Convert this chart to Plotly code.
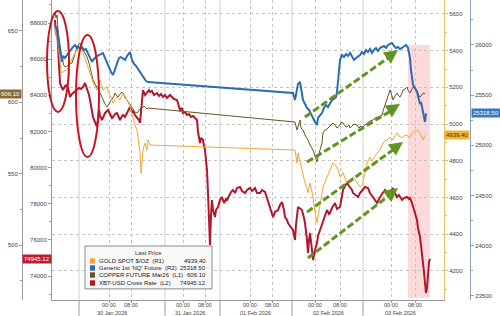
import plotly.graph_objects as go

# ---------------- data (t = compressed trading-time index) ----------------
nq_t = [3, 5, 6, 8, 10, 11, 13, 15, 17, 19, 21, 23, 25, 26, 28, 30, 32, 34, 36, 38,
        40, 41, 43, 45, 47, 49, 51, 53, 55, 57, 59, 61, 63, 65, 67, 69, 71, 73, 75, 77,
        78, 80, 82, 84, 86, 88, 90, 92, 94, 96,
        241, 243, 244, 246, 248, 249, 251, 253, 255, 257, 259, 261, 263, 265, 266, 268, 270, 272, 274, 276,
        278, 280, 282, 284, 285, 286, 287, 288, 290, 292, 294, 296, 298, 300, 302, 304, 306, 308, 310, 312,
        314, 316, 318, 320, 322, 324, 326, 328, 330, 332, 334, 336, 338, 340, 342, 344, 346, 348, 350, 352,
        354, 356, 357, 358, 359, 360, 361, 363, 365, 366, 367, 368, 369, 370, 371, 372, 373, 374]
nq_v = [26189, 26169, 26070, 25950, 25831, 25890, 25871, 25900, 25930, 25950, 25980, 26000, 25970, 25990,
        25960, 25980, 25950, 25960, 25920, 25880, 25831, 25851, 25871, 25890, 25900, 25910, 25920, 25871,
        25821, 25771, 25731, 25701, 25751, 25821, 25871, 25880, 25861, 25851, 25890, 25910, 25930, 25851,
        25811, 25791, 25761, 25721, 25701, 25661, 25641, 25631,
        25522, 25452, 25502, 25612, 25631, 25552, 25452, 25412, 25373, 25353, 25303, 25273, 25233, 25203,
        25273, 25303, 25323, 25373, 25402, 25382, 25422, 25452, 25462, 25482, 25532, 25651, 25771, 25851,
        25900, 25880, 25910, 25890, 25920, 25880, 25851, 25871, 25890, 25900, 25930, 25910, 25950, 25930,
        25960, 25920, 25950, 25970, 25940, 25970, 25980, 25990, 25970, 26000, 26010, 26020, 25990, 25970,
        25980, 25960, 25970, 25990, 26000, 25970, 25930, 25871, 25751, 25651, 25602, 25572, 25532, 25492,
        25452, 25412, 25432, 25373, 25333, 25273, 25233, 25318.50]

xbt_t = [3, 4, 5, 6, 7, 8, 10, 11, 13, 15, 17, 18, 20, 21, 23, 25, 27, 29, 31, 33,
         35, 37, 38, 40, 41, 43, 45, 47, 48, 50, 52, 53, 55, 56, 58, 60, 61, 63, 65, 67,
         68, 70, 71, 73, 75, 77, 78, 80, 81, 83, 85, 87, 88, 89, 90, 91, 93, 95, 97, 98,
         100, 102, 105, 107, 109, 111, 113, 115, 118, 120, 122, 125, 126, 128, 130, 131, 133, 135, 137, 139,
         141, 143, 145, 146, 147, 148, 149, 151, 152, 153, 154, 155, 156, 157, 158, 159, 160, 161, 163, 164,
         166, 168, 170, 172, 174, 175, 177, 179, 181, 183, 185, 188, 190, 193, 195, 198, 200, 203, 205, 208,
         210, 213, 215, 218, 220, 221, 223, 226, 228, 230, 232, 233, 235, 236, 238, 241, 243, 244, 246, 248,
         250, 252, 253, 255, 256, 257, 258, 260, 261, 263, 265, 266, 268, 270, 271, 273, 275, 277, 278, 280,
         283, 285, 288, 290, 291, 293, 295, 297, 298, 300, 301, 303, 306, 308, 311, 313, 316, 318, 321, 323,
         325, 327, 328, 330, 333, 335, 338, 340, 341, 343, 345, 347, 350, 352, 355, 357, 358, 360, 361, 363,
         365, 366, 368, 369, 370, 371, 372, 373, 374, 375, 376, 377, 378]
xbt_v = [88166, 87336, 87723, 86506, 85399, 84680, 84403, 84292, 84514, 84569, 84182, 83905, 84071, 84126,
         84237, 84292, 84403, 84348, 84458, 84680, 84403, 84016, 83739, 83185, 82798, 82521, 82245, 83185,
         82853, 82632, 82853, 83019, 83130, 83185, 82964, 82743, 82798, 82964, 83019, 82743, 82632, 82853,
         82909, 82798, 83019, 83241, 83351, 83075, 83130, 82909, 82798, 82632, 82466, 83185, 83739, 84292,
         84016, 84126, 84292, 84182, 84237, 84016, 84126, 83960, 84071, 83905, 84016, 83850, 84016, 83905,
         83794, 83739, 83517, 83185, 83296, 83019, 83075, 82909, 82964, 82798, 82853, 82743, 82632, 81968,
         81636, 81359, 81636, 81525, 81193, 80972, 80419, 79865, 78592, 77375, 75714, 77375, 78205, 77651,
         77264, 77651, 77818, 78205, 78371, 78039, 78260, 78205, 78482, 78648, 78758, 78592, 78869, 78924,
         78703, 78592, 78758, 78869, 78703, 78869, 78592, 78592, 78758, 78648, 78316, 77818, 77485, 77264,
         77541, 77651, 77928, 78094, 77651, 77264, 77098, 76932, 76766, 76545, 75992, 76822, 77818, 77707,
         77651, 77209, 76932, 75992, 75272, 75992, 76379, 75438, 74885, 75438, 75825, 76213, 76545, 76877,
         77098, 77430, 77651, 77430, 77485, 77762, 78039, 77707, 77818, 78426, 78758, 78980, 79146, 78980,
         78924, 78758, 78592, 78482, 78371, 78592, 78758, 78924, 78869, 78592, 78371, 78205, 78039, 78260,
         78371, 78537, 78758, 78592, 78648, 78814, 78869, 78592, 78371, 78482, 78205, 78316, 78371, 78260,
         78316, 78039, 77818, 77485, 77098, 76655, 76158, 75714, 75272, 74718, 74220, 73611, 73058, 73335,
         74331, 74774, 74945.12]

cu_t = [3, 4, 5, 6, 8, 10, 12, 14, 16, 18, 20, 22, 24, 25, 27, 28, 30, 31, 33, 35,
        37, 38, 40, 41, 43, 45, 47, 48, 50, 51, 53, 55, 57, 58, 60, 62, 63, 65, 66, 68,
        70, 72, 73, 75, 77, 78, 80, 82, 83, 85, 87, 88, 90, 92, 93, 95, 96,
        243, 245, 246, 248, 249, 251, 253, 255, 256, 258, 260, 261, 263, 265, 266, 268, 270, 271, 273, 275,
        276, 278, 280, 281, 283, 285, 286, 288, 290, 291, 293, 295, 297, 298, 300, 302, 305, 307, 309, 311,
        313, 316, 318, 321, 323, 326, 328, 330, 332, 334, 335, 337, 338, 340, 341, 343, 345, 346, 348, 350,
        351, 353, 355, 356, 358, 360, 361, 363, 365, 366, 368, 370, 371, 373]
cu_v = [663.3, 659.1, 661.2, 650.7, 640.2, 631.1, 625.5, 624.8, 626.2, 626.9, 627.6, 631.8, 636.7, 638.8,
        640.9, 641.6, 638.8, 636.7, 634.6, 631.8, 627.6, 624.8, 619.2, 615.7, 612.9, 610.7, 607.9, 606.5,
        603.7, 601.6, 598.8, 596.7, 598.8, 600.2, 601.6, 604.4, 606.5, 604.4, 603.7, 605.8, 607.2, 605.1,
        603.0, 601.6, 599.5, 598.1, 596.7, 594.6, 593.2, 592.5, 594.6, 595.3, 596.0, 597.4, 596.7, 595.3,
        596.0,
        586.2, 580.6, 582.7, 587.6, 582.0, 580.6, 577.1, 575.0, 573.6, 570.1, 568.0, 566.6, 562.4, 558.2,
        561.7, 566.6, 571.5, 578.5, 580.6, 581.3, 582.0, 583.4, 584.8, 585.5, 584.1, 582.0, 582.7, 584.1,
        586.2, 585.5, 583.4, 582.7, 584.1, 582.0, 583.4, 584.8, 584.1, 582.0, 583.4, 582.7, 584.1, 585.5,
        586.9, 587.6, 589.0, 589.7, 590.4, 591.1, 596.0, 600.2, 601.6, 605.8, 608.6, 604.4, 601.6, 604.4,
        606.5, 605.1, 603.7, 606.5, 608.6, 609.3, 610.7, 608.6, 606.5, 609.3, 610.7, 609.3, 608.6, 605.8,
        603.7, 605.1, 606.5, 606.10]

au_t = [3, 4, 5, 6, 8, 9, 11, 13, 15, 17, 18, 20, 21, 23, 25, 27, 28, 30, 31, 33,
        35, 37, 38, 40, 41, 43, 45, 47, 48, 50, 51, 53, 55, 56, 58, 60, 61, 63, 65, 67,
        68, 70, 71, 73, 75, 77, 78, 80, 81, 83, 85, 86, 87, 88, 89, 90, 91, 92, 93, 94,
        95, 96, 97, 98,
        243, 245, 246, 248, 250, 251, 253, 255, 256, 258, 260, 261, 262, 263, 264, 265, 266, 268, 270, 271,
        273, 275, 277, 278, 280, 281, 283, 285, 287, 288, 290, 291, 293, 295, 297, 298, 300, 301, 303, 305,
        307, 308, 310, 311, 313, 315, 317, 318, 320, 321, 323, 325, 327, 328, 330, 331, 333, 335, 337, 338,
        340, 341, 343, 345, 347, 350, 352, 355, 357, 358, 360, 361, 363, 365, 366, 368, 370, 371, 373]
au_v = [5524, 5480, 5502, 5431, 5349, 5279, 5284, 5290, 5295, 5316, 5333, 5355, 5366, 5388, 5404, 5415,
        5420, 5404, 5388, 5360, 5333, 5300, 5279, 5246, 5224, 5202, 5186, 5219, 5240, 5208, 5186, 5197,
        5202, 5181, 5159, 5132, 5115, 5132, 5148, 5137, 5132, 5159, 5170, 5148, 5132, 5110, 5093, 5055,
        5023, 4995, 4968, 4930, 4886, 4843, 4733, 4804, 4859, 4881, 4897, 4876, 4859, 4914, 4897, 4886,
        4859, 4788, 4843, 4794, 4750, 4718, 4679, 4652, 4625, 4679, 4630, 4603, 4554, 4516, 4478, 4462,
        4494, 4570, 4625, 4658, 4685, 4712, 4734, 4750, 4777, 4788, 4777, 4767, 4734, 4712, 4723, 4734,
        4707, 4679, 4690, 4696, 4707, 4712, 4696, 4679, 4663, 4658, 4669, 4679, 4739, 4788, 4810, 4821,
        4799, 4805, 4827, 4843, 4854, 4859, 4881, 4897, 4908, 4914, 4925, 4930, 4919, 4914, 4936, 4952,
        4936, 4925, 4936, 4941, 4925, 4930, 4946, 4957, 4963, 4968, 4963, 4952, 4925, 4914, 4939.40]

tick_pos = [57, 79, 131, 153, 198, 220, 263, 288, 339, 363]
tick_text = ["00:00", "08:00"] * 5
day_pos = [60, 138, 203, 276, 348]
day_text = ["30 Jan 2026", "31 Jan 2026", "01 Feb 2026", "02 Feb 2026", "03 Feb 2026"]
day_sep = [27, 113, 168, 240, 311]

names = ["GOLD SPOT $/OZ  (R1)", "Generic 1st 'NQ' Future  (R2)",
         "COPPER FUTURE Mar26  (L1)", "XBT-USD Cross Rate  (L2)"]
last_vals = ["4939.40", "25318.50", "606.10", "74945.12"]

C_GOLD = "#f2a72e"
C_NQ = "#2d6cb3"
C_CU = "#6e5226"
C_XBT = "#b3172e"
GREEN = "#5e9620"
FONT = "Liberation Sans"

fig = go.Figure()
fig.add_trace(go.Scatter(x=au_t, y=au_v, yaxis="y3", mode="lines",
                         line=dict(color=C_GOLD, width=1), name=names[0]))
fig.add_trace(go.Scatter(x=cu_t, y=cu_v, yaxis="y2", mode="lines",
                         line=dict(color=C_CU, width=1), name=names[2]))
fig.add_trace(go.Scatter(x=nq_t, y=nq_v, yaxis="y4", mode="lines",
                         line=dict(color=C_NQ, width=2), name=names[1]))
fig.add_trace(go.Scatter(x=xbt_t, y=xbt_v, yaxis="y", mode="lines",
                         line=dict(color=C_XBT, width=2), name=names[3]))

tickfont = dict(family=FONT, size=6, color="#444")
common = dict(showline=True, ticks="outside", ticklen=3, tickfont=tickfont,
              automargin=False, zeroline=False, fixedrange=True)

fig.update_layout(
    template="none",
    width=500, height=316,
    margin=dict(l=0, r=0, t=0, b=16, pad=0),
    paper_bgcolor="white", plot_bgcolor="white",
    showlegend=False, hovermode=False,
    xaxis=dict(domain=[0.104, 0.888], range=[0, 392], tickmode="array",
               tickvals=tick_pos, ticktext=tick_text, showticklabels=False, showgrid=True,
               gridcolor="#c4c4c4", griddash="dot", gridwidth=1,
               linecolor="#9a9a9a", tickcolor="#9a9a9a", ticklen=2,
               **{k: v for k, v in common.items() if k not in ("ticklen",)}),
    yaxis=dict(range=[72672, 89273], side="left", anchor="x", tickvals=list(range(74000, 88001, 2000)),
               tickformat=".0f", showgrid=False, linecolor="#9a9a9a", tickcolor="#9a9a9a",
               minor=dict(dtick=1000, ticklen=2, ticks="outside", tickcolor="#9a9a9a"), **common),
    yaxis2=dict(range=[461.5, 671.7], overlaying="y", side="left", anchor="free", position=0.044,
                dtick=50, tick0=500, showgrid=False, linecolor="#9a9a9a", tickcolor="#9a9a9a",
                minor=dict(dtick=25, ticklen=2, ticks="outside", tickcolor="#9a9a9a"), **common),
    yaxis3=dict(range=[4042, 5676], overlaying="y", side="right", anchor="x",
                dtick=200, tick0=4200, tickformat=".0f", showgrid=True, gridcolor="#c4c4c4",
                griddash="dot", linecolor="#e3c36a", tickcolor="#e3c36a",
                minor=dict(dtick=100, ticklen=2, ticks="outside", tickcolor="#e3c36a"), **common),
    yaxis4=dict(range=[23460, 26448], overlaying="y", side="right", anchor="free", position=0.94,
                dtick=500, tick0=23500, tickformat=".0f", showgrid=False,
                linecolor="#8fa1b5", tickcolor="#8fa1b5",
                minor=dict(dtick=250, ticklen=2, ticks="outside", tickcolor="#8fa1b5"), **common),
)

shapes = []
# day separators
for s in day_sep:
    shapes.append(dict(type="line", xref="x", yref="paper", x0=s, x1=s, y0=0, y1=1,
                       line=dict(color="#cfcfcf", width=1), layer="below"))
    shapes.append(dict(type="line", xref="x", yref="paper", x0=s, x1=s, y0=-0.053, y1=0,
                       line=dict(color="#9a9a9a", width=1)))
# pink highlight
shapes.append(dict(type="rect", xref="x", yref="paper", x0=356, x1=378, y0=0.007, y1=0.85,
                   fillcolor="rgba(250,150,150,0.35)", line=dict(width=0), layer="below"))
# red ellipses
shapes.append(dict(type="circle", xref="paper", yref="paper", x0=0.094, x1=0.138, y0=0.627, y1=0.963,
                   line=dict(color="#c81423", width=2)))
shapes.append(dict(type="circle", xref="paper", yref="paper", x0=0.152, x1=0.198, y0=0.477, y1=0.883,
                   line=dict(color="#c81423", width=2)))
# green dashed trend arrows
arrows = [(253, 0.61, 346, 0.833), (255, 0.46, 348, 0.653),
          (255, 0.293, 351, 0.527), (256, 0.14, 346, 0.373)]
for x0, y0, x1, y1 in arrows:
    shapes.append(dict(type="line", xref="x", yref="paper", x0=x0, y0=y0, x1=x1 - 4, y1=y1 - 0.012,
                       line=dict(color=GREEN, width=3, dash="7px,3px")))
# legend box
shapes.append(dict(type="rect", xref="paper", yref="paper", x0=0.17, x1=0.424, y0=0.037, y1=0.18,
                   fillcolor="#f8f8f8", line=dict(color="#8a8a8a", width=1)))
leg_colors = [C_GOLD, C_NQ, C_CU, C_XBT]
row_y = [0.13, 0.1067, 0.0833, 0.0567]
for c, yy in zip(leg_colors, row_y):
    shapes.append(dict(type="rect", xref="paper", yref="paper", x0=0.18, x1=0.19,
                       y0=yy - 0.009, y1=yy + 0.009, fillcolor=c, line=dict(width=0)))
fig.update_layout(shapes=shapes)

ann = []
for x0, y0, x1, y1 in arrows:
    dx, dy = (x1 - x0) * 1.0, (y1 - y0) * 300
    n = (dx * dx + dy * dy) ** 0.5
    ann.append(dict(x=x1, y=y1, xref="x", yref="paper", text="", showarrow=True,
                    ax=-dx / n * 9, ay=dy / n * 9, arrowhead=2, arrowsize=1.1,
                    arrowwidth=2.5, arrowcolor=GREEN))
# x tick labels (hours) and date row
for p, t in zip(tick_pos, tick_text):
    ann.append(dict(x=p, y=-0.017, xref="x", yref="paper", text=t, showarrow=False,
                    font=dict(family=FONT, size=5.5, color="#444"), xanchor="center", yanchor="middle"))
for p, t in zip(day_pos, day_text):
    ann.append(dict(x=p, y=-0.043, xref="x", yref="paper", text=t, showarrow=False,
                    font=dict(family=FONT, size=5.5, color="#444"), xanchor="center", yanchor="middle"))
ann.append(dict(x=0.297, y=0.157, xref="paper", yref="paper", text="Last Price", showarrow=False,
                font=dict(family=FONT, size=6, color="#333"), xanchor="center", yanchor="middle"))
for nm, val, yy in zip(names, last_vals, row_y):
    ann.append(dict(x=0.194, y=yy, xref="paper", yref="paper", text=nm, showarrow=False,
                    font=dict(family=FONT, size=6, color="#222"), xanchor="left", yanchor="middle"))
    ann.append(dict(x=0.416, y=yy, xref="paper", yref="paper", text=val, showarrow=False,
                    font=dict(family=FONT, size=6, color="#222"), xanchor="right", yanchor="middle"))
# last-value badges
badge = [("y2", cu_v[-1], "606.10", 0.044, "right", "#8a6a38", "#ffffff"),
         ("y", xbt_v[-1], "74945.12", 0.104, "right", "#c01d35", "#ffffff"),
         ("y3", au_v[-1], "4939.40", 0.888, "left", "#f2b43a", "#4a3000"),
         ("y4", nq_v[-1], "25318.50", 0.942, "left", "#3b78bf", "#ffffff")]
for ya, yv, txt, xp, anc, bg, fc in badge:
    ann.append(dict(x=xp, y=yv, xref="paper", yref=ya, text=txt, showarrow=False,
                    xanchor=anc, yanchor="middle", bgcolor=bg, borderpad=1,
                    font=dict(family=FONT, size=6, color=fc)))
fig.update_layout(annotations=ann)

fig.write_html("out.html")
